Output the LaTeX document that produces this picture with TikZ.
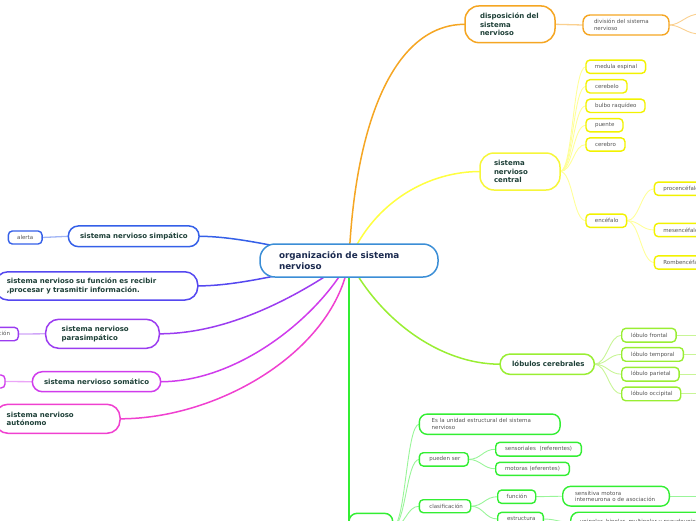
\documentclass[tikz,border=0pt]{standalone}
\usepackage{fontspec}
\setmainfont{DejaVu Sans}
\definecolor{cBlue}{HTML}{3B8ED6}
\definecolor{cOrange}{HTML}{F5A623}
\definecolor{cOrangeL}{HTML}{FAD08F}
\definecolor{cYellowM}{HTML}{F6F63A}
\definecolor{cYellow}{HTML}{F2F200}
\definecolor{cYellowC}{HTML}{FFFF40}
\definecolor{cYellowL}{HTML}{FFFF99}
\definecolor{cLime}{HTML}{99EE33}
\definecolor{cLimeL}{HTML}{C8F596}
\definecolor{cGreen}{HTML}{33EE33}
\definecolor{cGreenL}{HTML}{99F599}
\definecolor{cSimp}{HTML}{3560E8}
\definecolor{cSimpL}{HTML}{A0B4F5}
\definecolor{cFunc}{HTML}{5548F0}
\definecolor{cPara}{HTML}{9B3CF0}
\definecolor{cParaL}{HTML}{CFA5F8}
\definecolor{cSoma}{HTML}{D03CEC}
\definecolor{cSomaL}{HTML}{EBA5F7}
\definecolor{cAuto}{HTML}{F040D0}
\definecolor{mainText}{HTML}{1E4038}
\definecolor{centText}{HTML}{1C2B50}
\definecolor{leafText}{HTML}{555555}
\pgfdeclarelayer{bg}
\pgfsetlayers{bg,main}
\tikzset{
  every node/.append style={execute at begin node={\hyphenpenalty=10000\exhyphenpenalty=10000\hbadness=10000\hfuzz=50pt\relax}},
  mainbox/.style={draw=#1, fill=white, line width=1.5pt, rounded corners=10pt,
    align=left, text=mainText, inner ysep=0pt, outer sep=0pt,
    font=\fontsize{7}{8.7}\selectfont\bfseries},
  leafbox/.style={draw=#1, fill=white, line width=1.4pt, rounded corners=4pt,
    align=left, text=leafText, inner ysep=0pt, outer sep=0pt,
    font=\fontsize{5.5}{7}\selectfont},
  conn/.style={draw=#1, line width=1.5pt},
  sub/.style={draw=#1, line width=0.9pt},
}
\begin{document}
\begin{tikzpicture}[x=1pt,y=-1pt]
\useasboundingbox (0,0) rectangle (696,520);
\clip (0,0) rectangle (696,520);
% central
\node[mainbox=cBlue, text=centText, font=\fontsize{8.8}{10.3}\selectfont\bfseries,
  minimum width=178pt, minimum height=33pt, text width=140pt, inner xsep=19pt,
  rounded corners=15pt] (central) at (349,260.5) {organización~de~sistema\\nervioso};
% orange branch
\node[mainbox=cOrange, minimum width=90pt, minimum height=36.7pt, text width=60pt,
  inner xsep=15pt, rounded corners=14pt] (disp) at (510,24.3) {disposición~del\\sistema\\nervioso};
\node[leafbox=cOrange, minimum width=86pt, minimum height=20pt, text width=64pt,
  inner xsep=11pt, rounded corners=7pt] (div) at (626,25) {división~del~sistema\\nervioso};
\coordinate (rA) at (700,14);
\coordinate (rB) at (700,34);
% yellow branch
\node[mainbox=cYellowM, minimum width=80pt, minimum height=37pt, text width=52pt,
  inner xsep=14pt, rounded corners=14pt] (snc) at (520,171.5) {sistema\\nervioso\\central};
\node[leafbox=cYellow, minimum height=13.3pt, inner xsep=9pt, minimum width=59.7pt, text width=41.7pt] (med) at (615.8,66.7) {medula~espinal};
\node[leafbox=cYellow, minimum height=13.3pt, inner xsep=9pt, minimum width=41pt, text width=23pt] (cbl) at (606.5,86.3) {cerebelo};
\node[leafbox=cYellow, minimum height=13.3pt, inner xsep=9pt, minimum width=59pt, text width=41pt] (bul) at (615.5,105.8) {bulbo~raquídeo};
\node[leafbox=cYellow, minimum height=13.3pt, inner xsep=9pt, minimum width=37pt, text width=19pt] (pue) at (604.5,125.2) {puente};
\node[leafbox=cYellow, minimum height=13.3pt, inner xsep=9pt, minimum width=39pt, text width=21pt] (cer) at (605.5,144.5) {cerebro};
\node[leafbox=cYellow, minimum height=13.3pt, inner xsep=9pt, minimum width=40.7pt, text width=22.7pt] (enc) at (606.3,220.7) {encéfalo};
\node[leafbox=cYellow, minimum height=13.3pt, inner xsep=9pt, minimum width=70pt, text width=52pt] (pro) at (689.3,188.7) {procencéfalo};
\node[leafbox=cYellow, minimum height=13.3pt, inner xsep=9pt, minimum width=70pt, text width=52pt] (mes) at (689.3,230) {mesencéfalo};
\node[leafbox=cYellow, minimum height=13.3pt, inner xsep=9pt, minimum width=70pt, text width=52pt] (rom) at (689.3,262.5) {Rombencéfalo};
% lime branch
\node[mainbox=cLime, minimum width=94.3pt, minimum height=20.3pt, text width=70.3pt,
  inner xsep=12pt] (lob) at (547.2,364.2) {lóbulos~cerebrales};
\node[leafbox=cLime, minimum height=13.7pt, inner xsep=9.3pt, minimum width=54.3pt, text width=35.7pt] (lfr) at (648.9,335.2) {lóbulo~frontal};
\node[leafbox=cLime, minimum height=13.7pt, inner xsep=9.3pt, minimum width=61.6pt, text width=43pt] (lte) at (652.5,354.4) {lóbulo~temporal};
\node[leafbox=cLime, minimum height=13.7pt, inner xsep=9.3pt, minimum width=57.3pt, text width=38.7pt] (lpa) at (650.4,374.2) {lóbulo~parietal};
\node[leafbox=cLime, minimum height=13.7pt, inner xsep=9.3pt, minimum width=59pt, text width=40.4pt] (loc) at (651.2,393.9) {lóbulo~occipital};
\coordinate (rL1) at (700,335.2);
\coordinate (rL2) at (700,354.4);
\coordinate (rL3) at (700,374.2);
\coordinate (rL4) at (700,393.9);
% green branch
\node[mainbox=cGreen, minimum width=43.7pt, minimum height=26.7pt, rounded corners=8pt] (neu) at (370.85,526.7) {};
\node[leafbox=cGreen, minimum width=140.7pt, minimum height=20.3pt, text width=116pt,
  inner xsep=12.4pt, rounded corners=8pt] (uni) at (489.7,424.2) {Es~la~unidad~estructural~del~sistema\\nervioso};
\node[leafbox=cGreen, minimum width=49pt, minimum height=13.3pt, text width=29pt, inner xsep=10pt] (pse) at (443.8,459.4) {pueden~ser};
\node[leafbox=cGreen, minimum width=85.6pt, minimum height=13.7pt, text width=67pt, inner xsep=9.3pt] (sen) at (538.5,449.2) {sensoriales~~(referentes)};
\node[leafbox=cGreen, minimum width=73.6pt, minimum height=13pt, text width=55pt, inner xsep=9.3pt] (mot) at (532.5,468.8) {motoras~(eferentes)};
\node[leafbox=cGreen, minimum width=51.4pt, minimum height=13pt, text width=31.4pt, inner xsep=10pt] (cla) at (445,506.2) {clasificación};
\node[leafbox=cGreen, minimum width=38pt, minimum height=13.3pt, text width=20pt, inner xsep=9pt] (fun) at (516.7,496.7) {función};
\node[leafbox=cGreen, minimum width=106.6pt, minimum height=19.7pt, text width=82pt,
  inner xsep=12.3pt, rounded corners=8pt, font=\fontsize{5.5}{6.4}\selectfont] (sma) at (616,496.2) {sensitiva~motora\\interneurona~o~de~asociación};
\node[leafbox=cGreen, minimum width=45.6pt, minimum height=13.3pt, text width=27pt, inner xsep=9.3pt] (est) at (520.5,519) {estructura};
\node[leafbox=cGreen, minimum width=200pt, minimum height=20pt, text width=181.4pt,
  inner xsep=9.3pt, rounded corners=8pt] (unp) at (670.7,522.2) {unipolar,~bipolar,~multipolar~y~pseudounipolar};
\coordinate (rS) at (700,496.2);
% left side
\node[leafbox=cSimp, minimum width=33.7pt, minimum height=13pt, text width=20pt,
  inner xsep=6.85pt, align=center] (ale) at (25.2,237.5) {alerta};
\node[mainbox=cSimp, minimum width=130.7pt, minimum height=20.7pt, text width=107.3pt,
  inner xsep=11.7pt] (sim) at (133.7,236.3) {sistema~nervioso~simpático};
\node[mainbox=cFunc, minimum width=202.7pt, minimum height=28.3pt, text width=179.3pt,
  inner xsep=11.7pt, rounded corners=13pt] (sfn) at (96.4,285.9) {sistema~nervioso~su~función~es~recibir\\,procesar~y~trasmitir~información.};
\node[mainbox=cPara, minimum width=113.6pt, minimum height=29pt, text width=81.6pt,
  inner xsep=16pt, rounded corners=13pt] (par) at (102.5,333.8) {sistema~nervioso\\parasimpático};
\node[leafbox=cPara, anchor=east, minimum height=13.4pt, inner xsep=8.3pt] (rel) at (18.3,334) {relajación};
\node[mainbox=cSoma, minimum width=128.4pt, minimum height=20pt, text width=105pt,
  inner xsep=11.7pt] (som) at (96.5,381.7) {sistema~nervioso~somático};
\node[leafbox=cSoma, anchor=east, minimum width=40pt, minimum height=13pt] (mlf) at (5,381.5) {};
\node[mainbox=cAuto, minimum width=125pt, minimum height=29pt, text width=101.6pt,
  inner xsep=11.7pt, rounded corners=13pt] (aut) at (57.5,418.8) {sistema~nervioso\\autónomo};
% connectors
\begin{pgfonlayer}{bg}
\draw[conn=cOrange] (central.center) .. controls (355,120) and (395,24.3) .. (disp.west);
\draw[conn=cYellowC] (central.center) .. controls (375,200) and (430,171.5) .. (snc.west);
\draw[conn=cLime] (central.center) .. controls (380,320) and (440,364.2) .. (lob.west);
\draw[conn=cGreen] (central.center -| neu.west) -- (neu.west);
\draw[conn=cSimp] (central.center) .. controls (290,250) and (240,236.3) .. (sim.east);
\draw[conn=cFunc] (central.center) .. controls (290,272) and (240,285.9) .. (sfn.east);
\draw[conn=cPara] (central.center) .. controls (300,295) and (230,333.8) .. (par.east);
\draw[conn=cSoma] (central.center) .. controls (320,315) and (240,381.7) .. (som.east);
\draw[conn=cAuto] (central.center) .. controls (335,350) and (220,418.8) .. (aut.east);
% sub connectors
\draw[sub=cOrangeL, line width=1.3pt] (disp.east) -- (div.west);
\draw[sub=cOrangeL] (div.east) .. controls +(12,0) and +(-14,0) .. (rA);
\draw[sub=cOrangeL] (div.east) .. controls +(12,0) and +(-14,0) .. (rB);
\foreach \n in {med,cbl,bul,pue,cer,enc}
  \draw[sub=cYellowL] (snc.east) .. controls +(13,0) and +(-13,0) .. (\n.west);
\foreach \n in {pro,mes,rom}
  \draw[sub=cYellowL] (enc.east) .. controls +(13,0) and +(-13,0) .. (\n.west);
\foreach \n in {lfr,lte,lpa,loc}
  \draw[sub=cLimeL] (lob.east) .. controls +(13,0) and +(-13,0) .. (\n.west);
\draw[sub=cLimeL] (lfr.east) -- (rL1);
\draw[sub=cLimeL] (lte.east) -- (rL2);
\draw[sub=cLimeL] (lpa.east) -- (rL3);
\draw[sub=cLimeL] (loc.east) -- (rL4);
\foreach \n in {uni,pse,cla}
  \draw[sub=cGreenL] (neu.east) .. controls +(13,0) and +(-13,0) .. (\n.west);
\foreach \n in {sen,mot}
  \draw[sub=cGreenL] (pse.east) .. controls +(13,0) and +(-13,0) .. (\n.west);
\foreach \n in {fun,est}
  \draw[sub=cGreenL] (cla.east) .. controls +(13,0) and +(-13,0) .. (\n.west);
\draw[sub=cGreenL] (fun.east) -- (sma.west);
\draw[sub=cGreenL] (est.east) .. controls +(13,0) and +(-13,0) .. (unp.west);
\draw[sub=cGreenL] (sma.east) -- (rS);
\draw[sub=cSimpL, line width=1.3pt] (ale.east) -- (sim.west);
\draw[sub=cParaL, line width=1.3pt] (rel.east) -- (par.west);
\draw[sub=cSomaL, line width=1.3pt] (mlf.east) -- (som.west);
\end{pgfonlayer}
\end{tikzpicture}
\end{document}
